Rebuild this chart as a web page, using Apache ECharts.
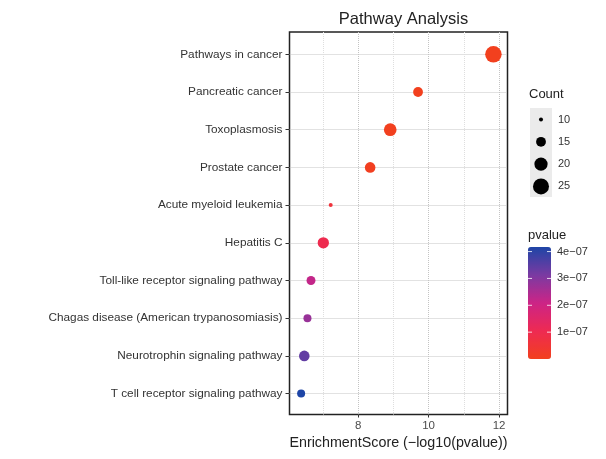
<!DOCTYPE html>
<html>
<head>
<meta charset="utf-8">
<script src="https://cdn.jsdelivr.net/npm/echarts@6/dist/echarts.min.js"></script>
<style>html,body{margin:0;padding:0;background:#fff}#c{width:606px;height:459px}</style>
</head>
<body>
<div id="c"></div>
<script>
// ---- data ----
var pathways = [
  'Pathways in cancer',
  'Pancreatic cancer',
  'Toxoplasmosis',
  'Prostate cancer',
  'Acute myeloid leukemia',
  'Hepatitis C',
  'Toll-like receptor signaling pathway',
  'Chagas disease (American trypanosomiasis)',
  'Neurotrophin signaling pathway',
  'T cell receptor signaling pathway'
];
var enrichmentScore = [11.84, 9.70, 8.91, 8.34, 7.22, 7.01, 6.66, 6.56, 6.47, 6.38];
var counts = [26, 15, 19, 16, 10, 17, 14, 13, 16, 13];
var pvalues = [1.4e-12, 2.0e-10, 1.2e-9, 4.6e-9, 6.0e-8, 9.8e-8, 2.2e-7, 2.75e-7, 3.4e-7, 4.17e-7];
var xTickValues = [8, 10, 12];
var xMinorValues = [7, 9, 11];
var countLegendValues = [10, 15, 20, 25];
var pvalueTickValues = [1e-7, 2e-7, 3e-7, 4e-7];
var pvalueTickLabels = ['1e\u221207', '2e\u221207', '3e\u221207', '4e\u221207'];

// ---- styles ----
var FONT = 'Liberation Sans, Arial, sans-serif';
var X_MIN = 6.05, X_MAX = 12.24;
var COLORS = ['#F2401E', '#EE2A52', '#CC2486', '#7A3AA2', '#1E45A6'];
function radiusOf(c) { return 8.25 * Math.sqrt(Math.max(c - 9, 0) / 17); }

var pMin = Math.min.apply(null, pvalues), pMax = Math.max.apply(null, pvalues);

var data = pathways.map(function (p, i) {
  return [enrichmentScore[i], p, counts[i], pvalues[i]];
});

// colourbar geometry
var CB = {left: 528, top: 247, w: 23, h: 112};
function cbY(v) { return CB.top + (pMax - v) / (pMax - pMin) * CB.h; }

var graphics = [];
graphics.push({type: 'text', left: 529, top: 88, style: {text: 'Count', font: '13px ' + FONT, fill: '#222'}});
graphics.push({type: 'rect', shape: {x: 530, y: 108, width: 22, height: 89}, style: {fill: '#ebebeb'}});
countLegendValues.forEach(function (v, i) {
  var cy = 108 + 11.5 + i * 22.3;
  graphics.push({type: 'circle', shape: {cx: 541, cy: cy, r: radiusOf(v)}, style: {fill: '#000'}});
  graphics.push({type: 'text', x: 558, y: cy, style: {text: String(v), font: '11px ' + FONT, fill: '#333', verticalAlign: 'middle'}});
});
graphics.push({type: 'text', left: 528, top: 229, style: {text: 'pvalue', font: '13px ' + FONT, fill: '#222'}});
pvalueTickValues.forEach(function (v, i) {
  var y = cbY(v);
  graphics.push({type: 'text', x: 557, y: y, style: {text: pvalueTickLabels[i], font: '11px ' + FONT, fill: '#333', verticalAlign: 'middle'}, z: 10});
  graphics.push({type: 'line', shape: {x1: CB.left, y1: y, x2: CB.left + 4, y2: y}, style: {stroke: 'rgba(255,255,255,0.8)', lineWidth: 1}, z: 10});
  graphics.push({type: 'line', shape: {x1: CB.left + CB.w - 4, y1: y, x2: CB.left + CB.w, y2: y}, style: {stroke: 'rgba(255,255,255,0.8)', lineWidth: 1}, z: 10});
});

var chart = echarts.init(document.getElementById('c'), null, {renderer: 'canvas'});
chart.setOption({
  animation: false,
  backgroundColor: '#fff',
  title: {
    text: 'Pathway Analysis', left: 398.5, top: 6, textAlign: 'center',
    textStyle: {fontFamily: FONT, fontSize: 16.5, fontWeight: 'normal', color: '#222'}
  },
  grid: [
    {left: 289.5, top: 32, width: 218, height: 382.5, show: true, borderColor: '#222', borderWidth: 1.5, backgroundColor: 'transparent', containLabel: false},
    {left: 289.5, top: 54.3, width: 218, height: 339.3, containLabel: false}
  ],
  xAxis: [
    {
      gridIndex: 0, type: 'value', min: X_MIN, max: X_MAX,
      name: 'EnrichmentScore (\u2212log10(pvalue))', nameLocation: 'middle', nameGap: 19,
      nameTextStyle: {fontFamily: FONT, fontSize: 14.3, color: '#222'},
      axisLine: {show: false},
      axisTick: {show: true, length: 3, customValues: xTickValues, lineStyle: {color: '#333'}},
      axisLabel: {customValues: xTickValues, margin: 5, fontFamily: FONT, fontSize: 11.5, color: '#4d4d4d'},
      splitLine: {show: true, lineStyle: {color: '#c4c4c4', type: 'dotted', width: 1}}
    },
    {gridIndex: 1, type: 'value', min: X_MIN, max: X_MAX, show: false, splitLine: {show: false}},
    {
      gridIndex: 0, type: 'value', min: X_MIN, max: X_MAX, position: 'bottom',
      axisLine: {show: false},
      axisTick: {show: false, customValues: xMinorValues},
      axisLabel: {show: false, customValues: xMinorValues},
      splitLine: {show: true, lineStyle: {color: '#dedede', type: 'dotted', width: 1}}
    }
  ],
  yAxis: [
    {gridIndex: 0, type: 'value', min: 0, max: 1, show: false, splitLine: {show: false}},
    {
      gridIndex: 1, type: 'category', data: pathways, inverse: true, boundaryGap: false,
      axisLine: {show: false},
      axisTick: {show: true, length: 4, lineStyle: {color: '#333'}},
      axisLabel: {margin: 7, fontFamily: FONT, fontSize: 11.8, color: '#333'},
      splitLine: {show: true, lineStyle: {color: '#c4c4c4', type: 'dotted', width: 1}}
    }
  ],
  visualMap: {
    type: 'continuous', dimension: 3, seriesIndex: 0, min: pMin, max: pMax,
    calculable: false, realtime: false, text: null, showLabel: false,
    left: CB.left, top: CB.top, itemWidth: CB.w, itemHeight: CB.h, padding: 0,
    inRange: {color: COLORS}
  },
  series: [{
    type: 'scatter', xAxisIndex: 1, yAxisIndex: 1, clip: false,
    data: data,
    symbolSize: function (v) { return 2 * radiusOf(v[2]); },
    itemStyle: {opacity: 1}
  }],
  graphic: graphics
});
</script>
</body>
</html>
